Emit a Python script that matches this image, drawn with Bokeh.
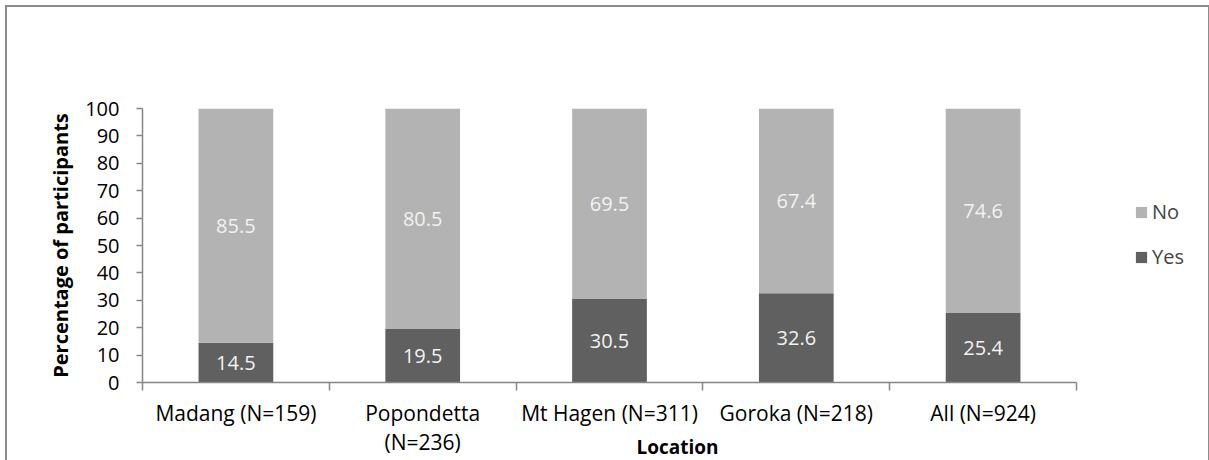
import numpy as np
from bokeh.plotting import figure
from bokeh.models import (ColumnDataSource, FixedTicker, Legend, LegendItem, Range1d)
from bokeh.core.properties import value
from bokeh.embed import file_html
from bokeh.resources import INLINE

# ---- data ----
categories = ["Madang (N=159)", "Popondetta\n(N=236)", "Mt Hagen (N=311)", "Goroka (N=218)", "All (N=924)"]
yes_values = [14.5, 19.5, 30.5, 32.6, 25.4]
no_values = [85.5, 80.5, 69.5, 67.4, 74.6]
series_names = ["Yes", "No"]
y_ticks = [0, 10, 20, 30, 40, 50, 60, 70, 80, 90, 100]

FONT = "Open Sans"
YES_COLOR = "#606060"
NO_COLOR = "#b3b3b3"
AXIS_COLOR = "#868686"

# layout (pixels)
W, H = 1205, 455
AXIS_LEFT, AXIS_RIGHT = 135, 1069     # category axis extent inside the canvas
FRAME_TOP = 101

n = len(categories)
xc = np.arange(n) + 0.5
yes = np.array(yes_values)
no = np.array(no_values)
x_end = n * (W - AXIS_LEFT) / (AXIS_RIGHT - AXIS_LEFT)   # frame runs to the right edge (legend lives there)

src = ColumnDataSource(dict(
    x=xc, yes_top=yes, no_bottom=yes, no_top=yes + no,
    yes_mid=yes / 2, no_mid=yes + no / 2,
    yes_lbl=[f"{v:.1f}" for v in yes], no_lbl=[f"{v:.1f}" for v in no],
))

p = figure(width=W, height=H, output_backend="svg", toolbar_location=None,
           x_range=Range1d(0, x_end), y_range=Range1d(0, 100),
           min_border_left=AXIS_LEFT, min_border_right=0, min_border_top=FRAME_TOP, min_border_bottom=60,
           styles={"border-left": "2px solid #8c8c8c", "border-top": "2px solid #8c8c8c",
                   "border-right": "2px solid #8c8c8c",
                   "margin-left": "5px", "margin-top": "5px", "margin-bottom": "-30px"})
p.outline_line_color = None
p.grid.visible = False
p.background_fill_color = "white"
p.border_fill_color = "white"

r_yes = p.vbar(x="x", bottom=0, top="yes_top", width=0.4, source=src,
               fill_color=YES_COLOR, line_color=None)
r_no = p.vbar(x="x", bottom="no_bottom", top="no_top", width=0.4, source=src,
              fill_color=NO_COLOR, line_color=None)

for ycol, lcol in (("yes_mid", "yes_lbl"), ("no_mid", "no_lbl")):
    p.text(x="x", y=ycol, text=lcol, source=src, text_align="center", text_baseline="middle",
           text_color="#f2f2f2", text_font=value(FONT), text_font_size="20px")

xa = p.xaxis[0]
xa.bounds = (0, n)
xa.ticker = FixedTicker(ticks=list(xc), minor_ticks=list(range(n + 1)))
xa.major_label_overrides = {float(x): c for x, c in zip(xc, categories)}
xa.major_tick_in = 0
xa.major_tick_out = 0
xa.minor_tick_in = 0
xa.minor_tick_out = 8
xa.minor_tick_line_color = AXIS_COLOR
xa.axis_line_color = AXIS_COLOR
xa.axis_line_width = 1.5
xa.minor_tick_line_width = 1.5
xa.major_label_text_font = FONT
xa.major_label_text_font_size = "21px"
xa.major_label_text_color = "black"
xa.major_label_text_line_height = 1.05
xa.major_label_standoff = 8
xa.axis_label = "Location"
xa.axis_label_text_font = FONT
xa.axis_label_text_font_size = "19px"
xa.axis_label_text_font_style = "bold"
xa.axis_label_text_color = "black"
xa.axis_label_standoff = -25

ya = p.yaxis[0]
ya.ticker = FixedTicker(ticks=y_ticks)
ya.minor_tick_line_color = None
ya.major_tick_in = 0
ya.major_tick_out = 6
ya.major_tick_line_color = AXIS_COLOR
ya.major_tick_line_width = 1.5
ya.axis_line_color = AXIS_COLOR
ya.axis_line_width = 1.5
ya.major_label_text_font = FONT
ya.major_label_text_font_size = "20px"
ya.major_label_text_color = "black"
ya.major_label_standoff = 17
ya.axis_label = "Percentage of participants"
ya.axis_label_text_font = FONT
ya.axis_label_text_font_size = "20px"
ya.axis_label_text_font_style = "bold"
ya.axis_label_text_color = "black"
ya.axis_label_standoff = 8

legend = Legend(items=[LegendItem(label=series_names[1], renderers=[r_no]),
                       LegendItem(label=series_names[0], renderers=[r_yes])],
                location=(992, 112), orientation="vertical")
legend.border_line_color = None
legend.background_fill_alpha = 0
legend.padding = 0
legend.margin = 0
legend.spacing = 18
legend.glyph_width = 14
legend.glyph_height = 14
legend.label_text_font = FONT
legend.label_text_font_size = "20px"
legend.label_standoff = 4
p.add_layout(legend)

open("out.html", "w").write(file_html(p, INLINE))
